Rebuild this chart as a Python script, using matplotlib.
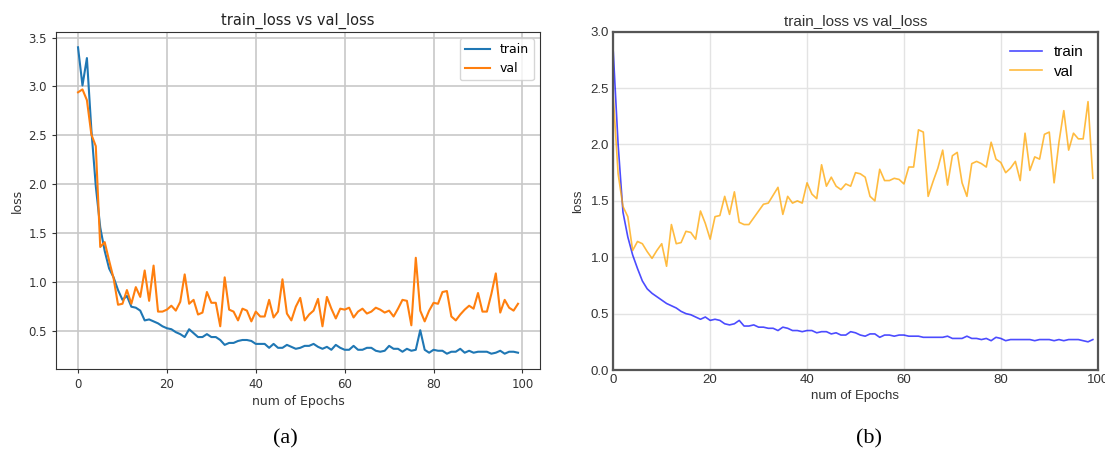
import matplotlib
matplotlib.use("Agg")
from matplotlib import pyplot as plt

epochs = list(range(100))

# (a) train / val loss
train_a = [3.40, 3.01, 3.29, 2.56, 1.98, 1.56, 1.32, 1.14, 1.05, 0.92,
           0.82, 0.86, 0.75, 0.74, 0.71, 0.61, 0.62, 0.60, 0.58, 0.55,
           0.53, 0.52, 0.49, 0.47, 0.44, 0.52, 0.48, 0.44, 0.44, 0.47,
           0.44, 0.44, 0.41, 0.36, 0.38, 0.38, 0.40, 0.41, 0.41, 0.40,
           0.37, 0.37, 0.37, 0.33, 0.37, 0.33, 0.33, 0.36, 0.34, 0.32,
           0.33, 0.35, 0.35, 0.37, 0.34, 0.32, 0.34, 0.31, 0.36, 0.33,
           0.31, 0.31, 0.35, 0.31, 0.31, 0.33, 0.33, 0.30, 0.29, 0.30,
           0.35, 0.32, 0.32, 0.29, 0.32, 0.30, 0.31, 0.51, 0.31, 0.28,
           0.31, 0.30, 0.30, 0.27, 0.29, 0.29, 0.32, 0.28, 0.30, 0.28,
           0.29, 0.29, 0.29, 0.27, 0.28, 0.30, 0.27, 0.29, 0.29, 0.28]
val_a = [2.94, 2.97, 2.86, 2.51, 2.39, 1.36, 1.41, 1.22, 1.04, 0.77,
         0.78, 0.92, 0.78, 0.95, 0.85, 1.12, 0.81, 1.17, 0.70, 0.70,
         0.72, 0.76, 0.71, 0.80, 1.08, 0.78, 0.82, 0.67, 0.69, 0.90,
         0.79, 0.79, 0.55, 1.05, 0.72, 0.70, 0.61, 0.73, 0.71, 0.60,
         0.70, 0.65, 0.65, 0.82, 0.64, 0.70, 1.03, 0.68, 0.61, 0.75,
         0.84, 0.61, 0.67, 0.71, 0.83, 0.55, 0.85, 0.73, 0.63, 0.73,
         0.72, 0.74, 0.64, 0.70, 0.73, 0.68, 0.70, 0.74, 0.72, 0.69,
         0.71, 0.65, 0.73, 0.82, 0.81, 0.56, 1.25, 0.71, 0.60, 0.71,
         0.79, 0.78, 0.90, 0.91, 0.65, 0.61, 0.67, 0.72, 0.76, 0.73,
         0.89, 0.70, 0.70, 0.88, 1.09, 0.69, 0.82, 0.74, 0.71, 0.78]

# (b) train / val loss
train_b = [2.82, 2.00, 1.40, 1.18, 1.02, 0.90, 0.79, 0.72, 0.68, 0.65,
           0.62, 0.59, 0.57, 0.55, 0.52, 0.50, 0.49, 0.47, 0.45, 0.47,
           0.44, 0.45, 0.44, 0.41, 0.40, 0.41, 0.44, 0.39, 0.39, 0.40,
           0.38, 0.38, 0.37, 0.37, 0.35, 0.38, 0.37, 0.35, 0.35, 0.34,
           0.35, 0.35, 0.33, 0.34, 0.34, 0.32, 0.33, 0.31, 0.31, 0.34,
           0.33, 0.31, 0.30, 0.32, 0.32, 0.29, 0.31, 0.31, 0.30, 0.31,
           0.31, 0.30, 0.30, 0.30, 0.29, 0.29, 0.29, 0.29, 0.29, 0.30,
           0.28, 0.28, 0.28, 0.30, 0.28, 0.28, 0.27, 0.28, 0.26, 0.29,
           0.28, 0.26, 0.27, 0.27, 0.27, 0.27, 0.27, 0.26, 0.27, 0.27,
           0.27, 0.26, 0.27, 0.26, 0.27, 0.27, 0.27, 0.26, 0.25, 0.27]
val_b = [2.42, 1.74, 1.45, 1.36, 1.06, 1.14, 1.12, 1.05, 0.99, 1.06,
         1.12, 0.92, 1.29, 1.12, 1.13, 1.23, 1.22, 1.16, 1.41, 1.30,
         1.16, 1.36, 1.37, 1.54, 1.38, 1.58, 1.31, 1.29, 1.29, 1.35,
         1.41, 1.47, 1.48, 1.55, 1.62, 1.38, 1.54, 1.48, 1.50, 1.48,
         1.66, 1.56, 1.52, 1.82, 1.63, 1.71, 1.63, 1.60, 1.65, 1.63,
         1.75, 1.74, 1.71, 1.54, 1.50, 1.78, 1.68, 1.68, 1.70, 1.69,
         1.65, 1.80, 1.80, 2.13, 2.11, 1.54, 1.67, 1.79, 1.95, 1.64,
         1.90, 1.93, 1.66, 1.54, 1.83, 1.85, 1.83, 1.80, 2.02, 1.87,
         1.84, 1.75, 1.79, 1.85, 1.68, 2.10, 1.77, 1.89, 1.87, 2.09,
         2.11, 1.66, 2.02, 2.30, 1.95, 2.10, 2.05, 2.05, 2.38, 1.70]

fig = plt.figure(figsize=(11.05, 4.53), dpi=100)

# ---- panel (a): plain matplotlib look
ax1 = fig.add_axes([0.0507, 0.1854, 0.438, 0.744])
ax1.plot(epochs, train_a, color="tab:blue", lw=1.5, label="train")
ax1.plot(epochs, val_a, color="tab:orange", lw=1.5, label="val")
ax1.grid(True, color="#c8c8c8", lw=1.2)
ax1.set_axisbelow(True)
ax1.set_xticks([0, 20, 40, 60, 80, 100])
ax1.set_yticks([0.5, 1.0, 1.5, 2.0, 2.5, 3.0, 3.5])
ax1.tick_params(labelsize=8.5, length=3, color="#333333", labelcolor="#333333")
for s in ax1.spines.values():
    s.set_color("#333333")
ax1.set_title("train_loss vs val_loss", fontsize=10.5, color="#222222", pad=5)
ax1.set_xlabel("num of Epochs", fontsize=9, color="#333333", labelpad=3)
ax1.set_ylabel("loss", fontsize=9, color="#333333", labelpad=3)
ax1.legend(loc="upper right", fontsize=9)

# ---- panel (b): seaborn-ish whitegrid look
sans = ["Liberation Sans", "DejaVu Sans"]
ax2 = fig.add_axes([0.555, 0.1832, 0.4384, 0.7468])
ax2.plot(epochs, train_b, color="blue", alpha=0.7, lw=1.2, label="train")
ax2.plot(epochs, val_b, color="orange", alpha=0.75, lw=1.2, label="val")
ax2.set_xlim(0, 100)
ax2.set_ylim(0, 3.0)
ax2.set_xticks([0, 20, 40, 60, 80, 100])
ax2.set_yticks([0.0, 0.5, 1.0, 1.5, 2.0, 2.5, 3.0])
ax2.grid(True, color="#e3e3e3", lw=1.0)
ax2.set_axisbelow(True)
ax2.tick_params(length=0, labelsize=9.5, labelcolor="#333333", pad=3)
for lab in ax2.get_xticklabels() + ax2.get_yticklabels():
    lab.set_family(sans)
for s in ax2.spines.values():
    s.set_color("#555555")
    s.set_linewidth(1.6)
ax2.set_title("train_loss vs val_loss", fontsize=11, color="#333333",
              family=sans, pad=5)
ax2.set_xlabel("num of Epochs", fontsize=9.5, color="#333333", family=sans,
               labelpad=3)
ax2.set_ylabel("loss", fontsize=9.5, color="#333333", family=sans, labelpad=5)
ax2.legend(loc="upper right", frameon=False, handlelength=2.1,
           prop={"family": sans, "size": 11}, borderaxespad=0.5,
           labelspacing=0.35)

# captions
fig.text(0.258, 0.031, "(a)", fontsize=16, family="Liberation Serif",
         ha="center", va="center")
fig.text(0.786, 0.031, "(b)", fontsize=16, family="Liberation Serif",
         ha="center", va="center")

fig.savefig("out.png", dpi=100)
